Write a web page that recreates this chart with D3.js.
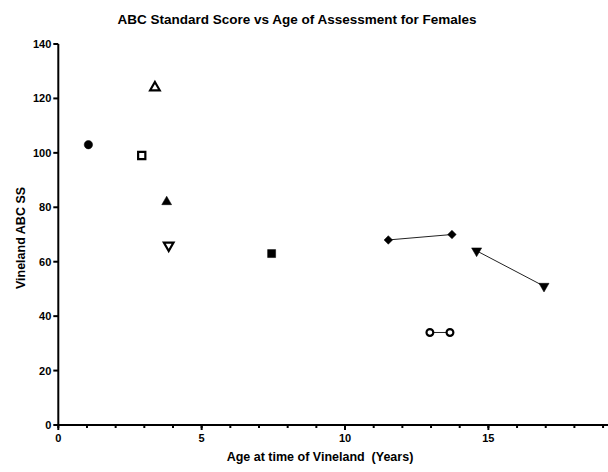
<!DOCTYPE html>
<html>
<head>
<meta charset="utf-8">
<script src="https://cdn.jsdelivr.net/npm/d3@7"></script>
<style>
body{margin:0;background:#fff;}
text{font-family:"Liberation Sans",Arial,sans-serif;font-weight:bold;fill:#000;white-space:pre;}
</style>
</head>
<body>
<svg id="c" width="608" height="472"></svg>
<script>
// Data
const subjects = ["F1","F2","F3","F4","F5","F6","F7","F8","F9"];
const ages   = [[1.05],[2.91],[3.37],[3.78],[3.85],[7.44],[11.51,13.73],[14.59,16.94],[12.96,13.66]];
const scores = [[103],[99],[124],[82],[66],[63],[68,70],[64,51],[34,34]];
const markers = ["circleFilled","squareOpen","triUpOpen","triUpFilled","triDownOpen","squareFilled","diamondFilled","triDownFilled","circleOpen"];
const yTicks = [0,20,40,60,80,100,120,140];
const xMajor = [0,5,10,15];
const xMinor = [0,1,2,3,4,5,6,7,8,9,10,11,12,13,14,15,16,17,18,19];

const svg = d3.select("#c");
const x = d3.scaleLinear().domain([0,19.2]).range([58.3,608.8]);
const y = d3.scaleLinear().domain([0,140]).range([425,44]);

// Y axis
const ya = svg.append("g").attr("transform","translate(58.3,0)");
ya.append("line").attr("x1",0).attr("x2",0).attr("y1",y(140)).attr("y2",y(0)).attr("stroke","#000").attr("stroke-width",2);
ya.selectAll("line.t").data(yTicks).join("line").attr("class","t")
  .attr("x1",-5).attr("x2",0).attr("y1",d=>y(d)).attr("y2",d=>y(d)).attr("stroke","#000").attr("stroke-width",2);
ya.selectAll("text").data(yTicks).join("text")
  .attr("x",-7).attr("y",d=>y(d)+4).attr("text-anchor","end").attr("font-size",11).text(d=>d);

// X axis
const xa = svg.append("g").attr("transform","translate(0,425)");
xa.append("line").attr("x1",x(0)-1).attr("x2",608).attr("y1",0).attr("y2",0).attr("stroke","#000").attr("stroke-width",2);
xa.selectAll("line.m").data(xMinor).join("line").attr("class","m")
  .attr("x1",d=>x(d)).attr("x2",d=>x(d)).attr("y1",0).attr("y2",3).attr("stroke","#000").attr("stroke-width",2);
xa.selectAll("line.M").data(xMajor).join("line").attr("class","M")
  .attr("x1",d=>x(d)).attr("x2",d=>x(d)).attr("y1",0).attr("y2",5).attr("stroke","#000").attr("stroke-width",2);
xa.selectAll("text").data(xMajor).join("text")
  .attr("x",d=>x(d)).attr("y",17).attr("text-anchor","middle").attr("font-size",11).text(d=>d);

// Labels
svg.append("text").attr("x",297).attr("y",24).attr("text-anchor","middle").attr("font-size",13.5)
  .text("ABC Standard Score vs Age of Assessment for Females");
svg.append("text").attr("x",320).attr("y",461).attr("text-anchor","middle").attr("font-size",12.5)
  .attr("xml:space","preserve")
  .text("Age at time of Vineland  (Years)");
svg.append("text").attr("transform","translate(25,238) rotate(-90)").attr("text-anchor","middle").attr("font-size",12.5)
  .text("Vineland ABC SS");

// Connecting lines
const line = d3.line().x(d=>x(d[0])).y(d=>y(d[1]));
subjects.forEach((s,i)=>{
  const pts = ages[i].map((a,j)=>[a,scores[i][j]]);
  if(pts.length>1){
    svg.append("path").attr("d",line(pts)).attr("fill","none").attr("stroke","#222").attr("stroke-width",1);
  }
});

// Markers
function sym(m){
  const map = {
    circleFilled:[d3.symbolCircle,55,0,true],
    circleOpen:[d3.symbolCircle,36,0,false],
    squareOpen:[d3.symbolSquare,52,0,false],
    squareFilled:[d3.symbolSquare,64,0,true],
    triUpOpen:[d3.symbolTriangle,40,0,false],
    triUpFilled:[d3.symbolTriangle,42,0,true],
    triDownOpen:[d3.symbolTriangle,40,180,false],
    triDownFilled:[d3.symbolTriangle,44,180,true],
    diamondFilled:[d3.symbolSquare,36,45,true]
  };
  return map[m];
}
subjects.forEach((s,i)=>{
  const [type,size,rot,filled] = sym(markers[i]);
  ages[i].forEach((a,j)=>{
    svg.append("path")
      .attr("d",d3.symbol().type(type).size(size)())
      .attr("transform",`translate(${x(a)},${y(scores[i][j])}) rotate(${rot})`)
      .attr("fill",filled?"#000":"#fff")
      .attr("stroke","#000")
      .attr("stroke-width",filled?0.5:2.2);
  });
});
</script>
</body>
</html>
